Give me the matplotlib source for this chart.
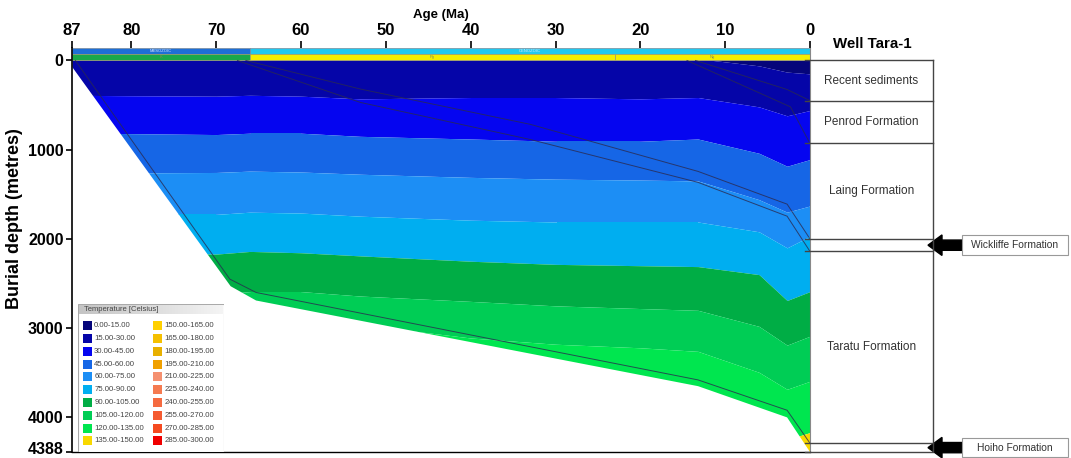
import numpy as np
import matplotlib
matplotlib.use('Agg')
import matplotlib.pyplot as plt
from matplotlib.patches import Polygon, Rectangle, FancyArrow

plt.rcParams['font.family'] = ['Liberation Sans', 'DejaVu Sans']

# ---- burial / temperature history (age in Ma, depth in m) ----
ages = [87, 80, 70, 66, 60, 53, 40, 30, 20, 13.2, 6, 2.7, 0]
iso15 = [-60, -60, -60, -60, -60, -60, -60, -60, -60, -20, 60, 130, 150]
iso30 = [390, 395, 400, 390, 400, 430, 415, 415, 430, 415, 520, 620, 560]
iso45 = [810, 820, 830, 815, 815, 850, 880, 905, 905, 880, 1040, 1185, 1110]
iso60 = [1260, 1260, 1255, 1240, 1250, 1275, 1310, 1330, 1340, 1350, 1560, 1700, 1630]
iso75 = [1720, 1725, 1725, 1700, 1710, 1745, 1790, 1810, 1810, 1810, 1920, 2100, 1970]
iso90 = [2160, 2165, 2170, 2140, 2155, 2190, 2250, 2285, 2300, 2310, 2400, 2690, 2590]
iso105 = [2620, 2620, 2620, 2590, 2590, 2640, 2700, 2750, 2780, 2800, 2980, 3190, 3090]
iso120 = [3000, 3000, 3000, 3000, 3000, 2960, 3110, 3180, 3220, 3260, 3495, 3685, 3595]
iso135 = [4500, 4500, 4500, 4500, 4500, 4500, 4500, 4500, 4500, 4500, 4400, 4250, 4170]

basement_age = [87, 68.3, 65.3, 13.2, 2.7, 0]
basement_depth = [70, 2530, 2690, 3650, 4000, 4388]

hoiho_age = [86.6, 68.4, 65.3, 13.2, 2.7, 0]
hoiho_depth = [0, 2450, 2600, 3580, 3920, 4290]
wick_top_age = [66.5, 53, 33, 13.2, 2.7, 0]
wick_top_depth = [0, 320, 715, 1243, 1610, 2000]
wick_base_age = [67.5, 53, 33, 13.2, 2.7, 0]
wick_base_depth = [0, 470, 885, 1366, 1745, 2140]
laing_top_age = [14.5, 2.3, 0]
laing_top_depth = [0, 520, 930]
recent_base_age = [13.5, 2.7, 0]
recent_base_depth = [0, 325, 450]

temp_labels = ['0.00-15.00', '15.00-30.00', '30.00-45.00', '45.00-60.00', '60.00-75.00',
               '75.00-90.00', '90.00-105.00', '105.00-120.00', '120.00-135.00', '135.00-150.00',
               '150.00-165.00', '165.00-180.00', '180.00-195.00', '195.00-210.00', '210.00-225.00',
               '225.00-240.00', '240.00-255.00', '255.00-270.00', '270.00-285.00', '285.00-300.00']
temp_colors = ['#05057a', '#0505a8', '#0505f0', '#1666e6', '#1c8ef5',
               '#00aef0', '#00ad45', '#00cd55', '#00e64f', '#f8d800',
               '#ffd000', '#f5c000', '#e8b000', '#f0a000', '#f59070',
               '#f57a50', '#f56a40', '#f55a30', '#f54a20', '#f00000']

era_names = ['MESOZOIC', 'CENOZOIC']
era_start = [87, 66]
era_end = [66, 0]
era_colors = ['#1e6fd6', '#22c8ee']
period_names = ['K', 'Pg', 'Ng']
period_start = [87, 66, 23]
period_end = [66, 23, 0]
period_colors = ['#1aa84a', '#f5ee00', '#f5ee00']

formations = ['Recent sediments', 'Penrod Formation', 'Laing Formation',
              'Wickliffe Formation', 'Taratu Formation', 'Hoiho Formation']
form_top = [0, 450, 930, 2000, 2140, 4290]
form_base = [450, 930, 2000, 2140, 4290, 4388]

age_ticks = [87, 80, 70, 60, 50, 40, 30, 20, 10, 0]
depth_ticks = [0, 1000, 2000, 3000, 4000, 4388]

W, H = 1071, 458
fig = plt.figure(figsize=(W / 100, H / 100), dpi=100)
ax = fig.add_axes([72 / W, 6 / H, 738 / W, 404 / H])
ax.set_xlim(87, 0)
ax.set_ylim(4388, -140)

# temperature bands clipped to the basin fill
clip = Polygon(list(zip([87, 0], [0, 0])) + list(zip(basement_age[::-1], basement_depth[::-1])),
               closed=True, transform=ax.transData)
n = len(ages)
edges = [np.full(n, -500.0)] + [np.array(v, float) for v in
                                 [iso15, iso30, iso45, iso60, iso75, iso90, iso105, iso120, iso135]] \
        + [np.full(n, 6000.0)]
for k in range(10):
    f = ax.fill_between(ages, edges[k], edges[k + 1], color=temp_colors[k], lw=0)
    f.set_clip_path(clip)

for xa, yd in [(hoiho_age, hoiho_depth), (wick_top_age, wick_top_depth),
               (wick_base_age, wick_base_depth), (laing_top_age, laing_top_depth),
               (recent_base_age, recent_base_depth)]:
    ax.plot(xa, yd, color='#2a2a50', lw=0.7, alpha=0.8)

# stratigraphic bar
for name, a0, a1, c in zip(era_names, era_start, era_end, era_colors):
    ax.add_patch(Rectangle((a0, -140), a1 - a0, 70, facecolor=c, edgecolor='#7a8a9a', lw=0.5))
    ax.text((a0 + a1) / 2, -105, name, fontsize=3, color='#dde8ff', ha='center', va='center')
for name, a0, a1, c in zip(period_names, period_start, period_end, period_colors):
    ax.add_patch(Rectangle((a0, -70), a1 - a0, 70, facecolor=c, edgecolor='#9a9a70', lw=0.5))
    ax.text((a0 + a1) / 2, -35, name, fontsize=3, color='#888855', ha='center', va='center')

ax.xaxis.tick_top()
ax.xaxis.set_label_position('top')
ax.set_xticks(age_ticks)
ax.set_xticklabels([str(a) for a in age_ticks], fontsize=12, fontweight='bold')
ax.set_yticks(depth_ticks)
# bottom label sits on the figure edge, so it is drawn slightly raised
ax.set_yticklabels([str(d) for d in depth_ticks[:-1]] + [''], fontsize=11.5, fontweight='bold')
ax.annotate(str(depth_ticks[-1]), xy=(0, depth_ticks[-1]), xycoords=('axes fraction', 'data'),
            xytext=(-6, 3), textcoords='offset points', ha='right', va='center_baseline',
            fontsize=11.5, fontweight='bold', annotation_clip=False)
ax.tick_params(axis='x', length=5, width=1.2, pad=2)
ax.tick_params(axis='y', length=4, width=1.2, pad=2)
ax.set_xlabel('Age (Ma)', fontsize=9.5, fontweight='bold', labelpad=4)
ax.set_ylabel('Burial depth (metres)', fontsize=13, fontweight='bold')
ax.yaxis.set_label_coords(-0.066, 0.577)
ax.spines['top'].set_visible(False)
ax.spines['right'].set_color('#888888')
ax.spines['left'].set_linewidth(1.2)
ax.spines['bottom'].set_linewidth(1.0)

# legend
lg = fig.add_axes([78 / W, 6 / H, 146 / W, 148 / H])
lg.set_xlim(0, 146)
lg.set_ylim(148, 0)
lg.axis('off')
lg.add_patch(Rectangle((0, 0), 146, 148, facecolor='white', edgecolor='#aaaaaa', lw=0.8))
grad = np.linspace(0, 1, 100)[None, :]
lg.imshow(grad, extent=(1, 145, 10, 1), cmap=matplotlib.colors.LinearSegmentedColormap.from_list(
    'g', ['#c4c4c4', '#f4f4f4']), aspect='auto', zorder=2)
lg.text(6, 5.5, 'Temperature [Celsius]', fontsize=5.5, color='#444444', va='center', zorder=3)
for i, (lab, c) in enumerate(zip(temp_labels, temp_colors)):
    col, row = divmod(i, 10)
    y = 21.7 + 12.8 * row
    x = 4.7 + 70.5 * col
    lg.add_patch(Rectangle((x, y - 4.5), 9, 9, facecolor=c, edgecolor='none'))
    lg.text(x + 11.5, y, lab, fontsize=5.6, color='#444444', va='center')

# well column
wc = fig.add_axes([810 / W, 6 / H, 261 / W, 404 / H])
wc.set_xlim(0, 261)
wc.set_ylim(4388, -140)
wc.axis('off')
for name, t, b in zip(formations, form_top, form_base):
    wc.plot([-5, 123], [t, t], color='#444444', lw=1.0, clip_on=False)
    if name in ('Wickliffe Formation', 'Hoiho Formation'):
        ym = (t + b) / 2
        wc.add_patch(FancyArrow(153, ym, -35, 0, width=115, head_width=230, head_length=14,
                                length_includes_head=True, color='black', clip_on=False))
        wc.add_patch(Rectangle((152, ym - 110), 106, 220, facecolor='white',
                               edgecolor='#999999', lw=0.8, clip_on=False))
        wc.text(205, ym, name, fontsize=7.4, color='#333333', ha='center', va='center')
    else:
        wc.text(61.5, (t + b) / 2, name, fontsize=8.5, color='#333333', ha='center', va='center')
wc.plot([-5, 123], [form_base[-1], form_base[-1]], color='#444444', lw=1.0, clip_on=False)
wc.plot([123, 123], [0, form_base[-1]], color='#444444', lw=1.0)
wc.text(62, -180, 'Well Tara-1', fontsize=10.8, fontweight='bold', ha='center', va='center')

fig.savefig('out.png', dpi=100)
